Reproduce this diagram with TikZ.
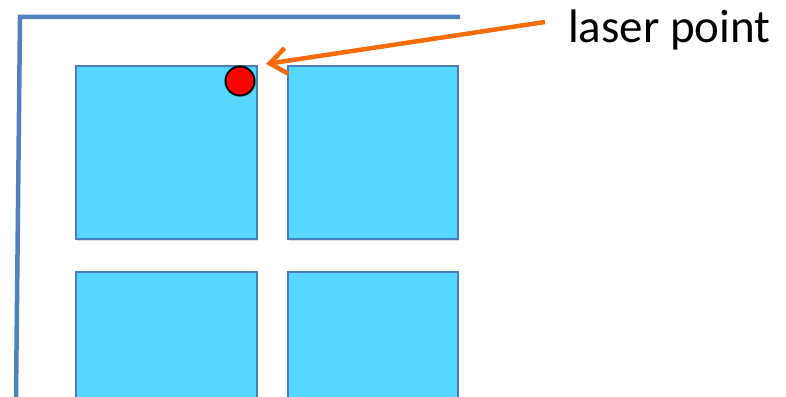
\documentclass[tikz,border=0pt]{standalone}
\usepackage{fontspec}
\setmainfont{Carlito}
\usetikzlibrary{shadows,arrows.meta}
\definecolor{boxfill}{HTML}{57D7FF}
\definecolor{boxline}{HTML}{4A7EBB}
\definecolor{frameblue}{HTML}{5282BE}
\definecolor{arrorange}{HTML}{F46C0C}
\tikzset{
  cell/.style={draw=boxline, line width=1.6pt, fill=boxfill, inner sep=0pt,
    anchor=north west, drop shadow={shadow xshift=1.5pt, shadow yshift=-2.5pt, opacity=0.25}},
  dot/.style={circle, draw=black, line width=2pt, fill=red, minimum size=29pt, inner sep=0pt,
    drop shadow={shadow xshift=1.5pt, shadow yshift=-2pt, opacity=0.25}},
  framebar/.style={draw=frameblue, line width=4.5pt},
  pointer/.style={draw=arrorange, line width=4.5pt, -{Straight Barb[length=17pt, width=26pt, line width=4.5pt]}},
}
\begin{document}
\begin{tikzpicture}[x=1pt, y=-1pt]
\useasboundingbox (0,0) rectangle (786,396);
% frame
\coordinate (fb) at (16,398);
\coordinate (fc) at (20,17);
\coordinate (fe) at (460,17);
\draw[framebar] (fb) -- (fc) -- (fe);
% boxes
\node[cell, minimum width=181pt, minimum height=173pt] (b11) at (75,65) {};
\node[cell, minimum width=170pt, minimum height=173pt] (b12) at (287,65) {};
\node[cell, minimum width=181pt, minimum height=126pt] (b21) at (75,271) {};
\node[cell, minimum width=170pt, minimum height=126pt] (b22) at (287,271) {};
% laser dot
\node[dot] (laser) at (240,81) {};
% label
\node[anchor=base west, inner sep=0pt, font=\fontsize{47}{50}\selectfont] (lbl) at (568,42) {laser point};
\coordinate (astart) at (545,22);
\coordinate (atip) at (266,64);
\draw[pointer] (astart) -- (atip);
\end{tikzpicture}
\end{document}
